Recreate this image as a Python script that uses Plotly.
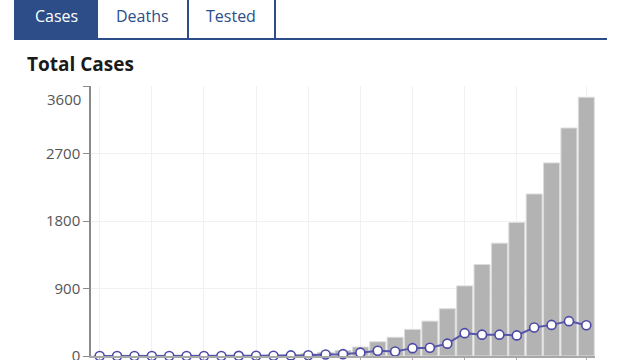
import plotly.graph_objects as go

# ---- data ----
days = [1, 2, 3, 4, 5, 6, 7, 8, 9, 10, 11, 12, 13, 14, 15, 16, 17, 18, 19, 20,
        21, 22, 23, 24, 25, 26, 27, 28, 29]
total_cases = [1, 1, 1, 1, 2, 2, 3, 3, 5, 8, 12, 20, 30, 50, 75, 120, 190, 250,
               355, 465, 630, 935, 1220, 1505, 1780, 2160, 2575, 3040, 3450]
new_cases = [1, 0, 0, 0, 1, 0, 1, 0, 2, 3, 4, 8, 10, 20, 25, 45, 70, 60, 105,
             110, 165, 305, 285, 285, 275, 380, 415, 465, 410]
x_ticks = [1, 4, 7, 10, 13, 16, 19, 22, 25, 29]
y_ticks = [0, 900, 1800, 2700, 3600]
y_tick_text = ["0", "900", "1800", "2700", ""]
tabs = ["Cases", "Deaths", "Tested"]
title = "Total Cases"

# ---- layout geometry (pixels) ----
W, H = 640, 360
L, R, T, B = 91, 45, 86, 4
PW, PH = W - L - R, H - T - B

def px(x):
    return (x - L) / PW

def py(y):
    return (H - B - y) / PH

BLUE = "#2c4d87"
FONT = "Open Sans"

fig = go.Figure()
fig.add_trace(go.Bar(
    x=days, y=total_cases,
    marker=dict(color="#b4b3b4", line=dict(color="#dcdcdc", width=1)),
    hoverinfo="x+y", name="Total",
))
fig.add_trace(go.Scatter(
    x=days, y=new_cases, mode="lines+markers",
    line=dict(color="#5856aa", width=2),
    marker=dict(size=9, color="white", line=dict(color="#4b49a6", width=1.6)),
    cliponaxis=False, name="New",
))

shapes = []
# tab bottom line
shapes.append(dict(type="line", xref="paper", yref="paper",
                   x0=px(15), x1=px(607), y0=py(39), y1=py(39),
                   line=dict(color=BLUE, width=2)))
# active tab
shapes.append(dict(type="rect", xref="paper", yref="paper",
                   x0=px(15), x1=px(97), y0=py(-5), y1=py(39),
                   fillcolor=BLUE, line=dict(color=BLUE, width=2)))
# inactive tabs
for x0, x1 in [(97, 188), (188, 275)]:
    shapes.append(dict(type="rect", xref="paper", yref="paper",
                       x0=px(x0), x1=px(x1), y0=py(-5), y1=py(39),
                       fillcolor="white", line=dict(color=BLUE, width=2)))

annotations = []
for label, cx, col in zip(tabs, [56, 142, 231], ["white", BLUE, BLUE]):
    annotations.append(dict(text=label, xref="paper", yref="paper",
                            x=px(cx), y=py(16), xanchor="center", yanchor="middle",
                            showarrow=False,
                            font=dict(family=FONT, size=16, color=col)))
annotations.append(dict(text="<b>" + title + "</b>", xref="paper", yref="paper",
                        x=px(25), y=py(64), xanchor="left", yanchor="middle",
                        showarrow=False,
                        font=dict(family=FONT, size=19, color="#1a1a1a")))
annotations.append(dict(text="3600", xref="paper", yref="y",
                        x=px(83), y=3600, xanchor="right", yanchor="middle",
                        yshift=-13, showarrow=False,
                        font=dict(family=FONT, size=15, color="#555555")))

fig.update_layout(
    template="none",
    width=W, height=H,
    margin=dict(l=L, r=R, t=T, b=B, autoexpand=False),
    paper_bgcolor="white", plot_bgcolor="white",
    showlegend=False, bargap=0.08,
    shapes=shapes, annotations=annotations,
    font=dict(family=FONT, color="#555555"),
    xaxis=dict(range=[0.5, 29.5], tickvals=x_ticks, showticklabels=False,
               automargin=False,
               showgrid=True, gridcolor="#f1f1f1", gridwidth=1,
               showline=True, linecolor="#a8a8a8", linewidth=1.5,
               ticks="outside", ticklen=5, tickcolor="#a8a8a8", zeroline=False),
    yaxis=dict(range=[0, 3600], tickvals=y_ticks, ticktext=y_tick_text,
               automargin=False, ticklabeloverflow="allow",
               showgrid=True, gridcolor="#f1f1f1", gridwidth=1,
               showline=True, linecolor="#8a8a8a", linewidth=1.5,
               ticks="outside", ticklen=6, tickcolor="#8a8a8a",
               tickfont=dict(family=FONT, size=15, color="#555555"),
               zeroline=False),
)

fig.write_html("out.html")
